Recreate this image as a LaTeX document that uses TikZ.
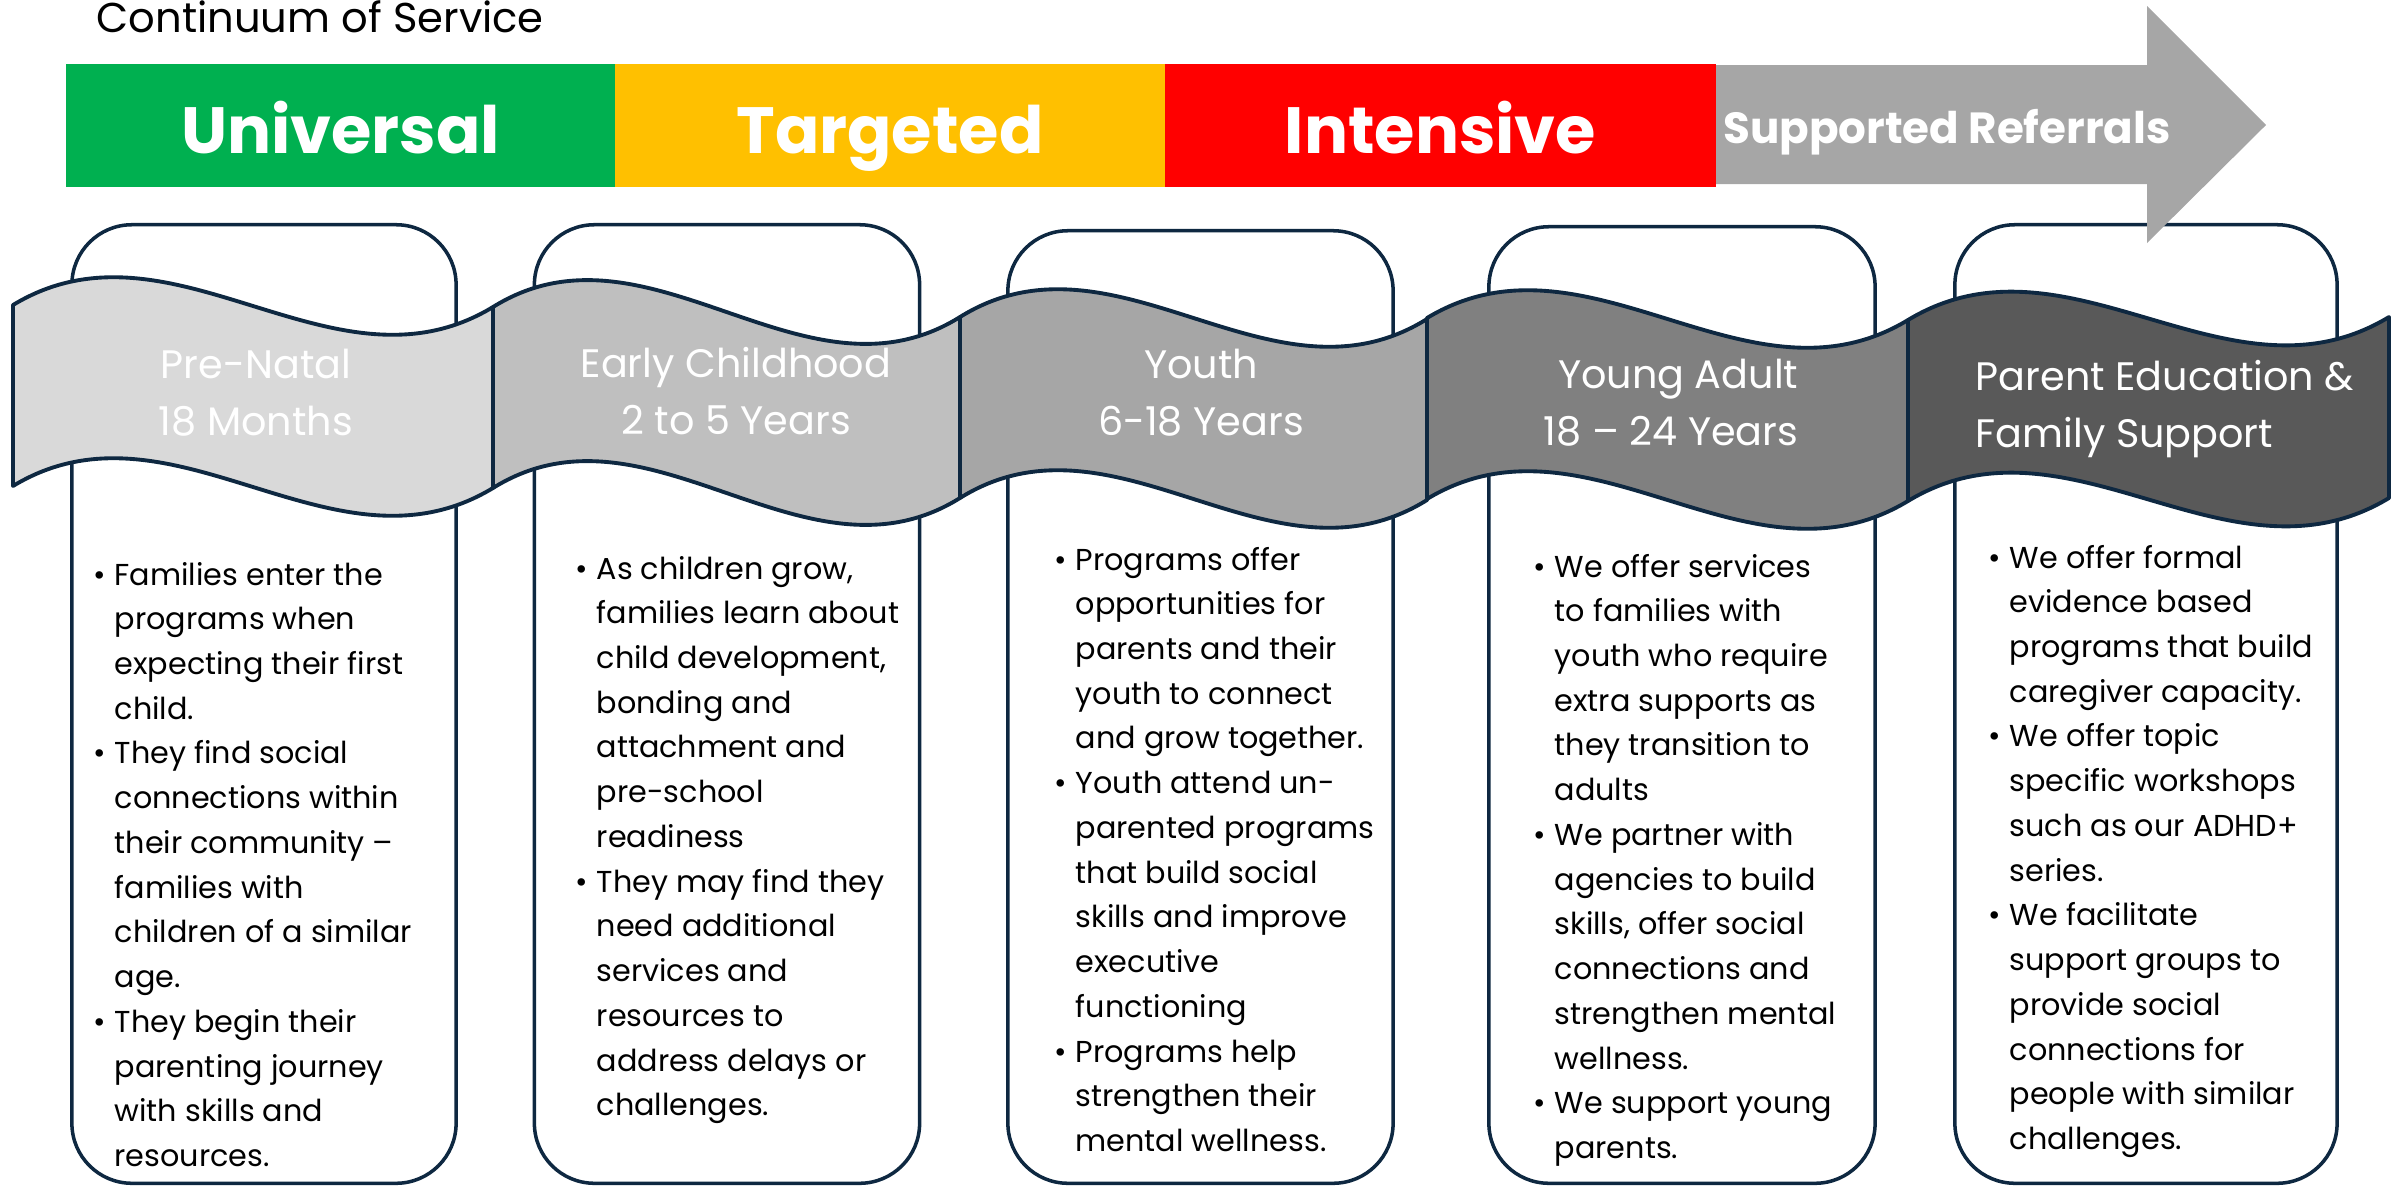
\documentclass[tikz,border=0pt]{standalone}
\usepackage{fontspec}
\setmainfont{Poppins}
\usetikzlibrary{positioning}
\definecolor{uniGreen}{HTML}{00B050}
\definecolor{tarAmber}{HTML}{FFC000}
\definecolor{intRed}{HTML}{FF0000}
\definecolor{refGrey}{HTML}{A6A6A6}
\definecolor{lineNavy}{HTML}{0E2841}
\definecolor{segA}{HTML}{D9D9D9}
\definecolor{segB}{HTML}{BFBFBF}
\definecolor{segC}{HTML}{A6A6A6}
\definecolor{segD}{HTML}{808080}
\definecolor{segE}{HTML}{595959}
\newcommand{\outlinecolor}{lineNavy}
\tikzset{wave/.style={draw=\outlinecolor, line width=1.1pt, line join=round}}

\begin{document}
\begin{tikzpicture}[x=0.01cm, y=-0.01cm,
	card/.style={draw=\outlinecolor, line width=1pt, rounded corners=0.6cm, fill=white, inner sep=0},
	bar/.style={inner sep=0, text=white, font=\bfseries\fontsize{18.6}{22}\selectfont, text height=0.55cm, text depth=0cm, minimum height=1.23cm},
	seglbl/.style={text=white, inner sep=0, font=\fontsize{11.3}{16.2}\selectfont},
	body/.style={anchor=base west, inner sep=0, font=\fontsize{8.6}{12.72}\selectfont}]
	\useasboundingbox (0,0) rectangle (2402,1187);
	%%
	\node[anchor=base west, inner sep=0, font=\fontsize{11.85}{14}\selectfont] (title) at (96,32) {Continuum of Service};
	%%
	\node[card, minimum width=3.84cm, minimum height=9.58cm] (c1) at (264,704) {};
	\node[card, minimum width=3.85cm, minimum height=9.58cm] (c2) at (727,704) {};
	\node[card, minimum width=3.85cm, minimum height=9.52cm] (c3) at (1200.5,707) {};
	\node[card, minimum width=3.86cm, minimum height=9.56cm] (c4) at (1682,705) {};
	\node[card, minimum width=3.82cm, minimum height=9.58cm] (c5) at (2146,704) {};
	%%
	\node[bar, fill=uniGreen, minimum width=5.49cm] (uni) at (340.5,125.5) {Universal};
	\node[bar, fill=tarAmber, minimum width=5.50cm] (tar) at (890,125.5) {Targeted};
	\node[bar, fill=intRed, minimum width=5.51cm] (int) at (1440.5,125.5) {Intensive};
	\fill[refGrey] (1716,65) -- (2147,65) -- (2147,6) -- (2266,125) -- (2147,243) -- (2147,184) -- (1716,184) -- cycle;
	\node[anchor=base, inner sep=0, text=white, font=\bfseries\fontsize{12.4}{14}\selectfont] (sup) at (1947,143) {Supported Referrals};
	%%
	\foreach \xa/\xb/\ya/\yb/\shade in {13/493/305/307/segA, 493/960/307/317/segB, 960/1427/317/319/segC, 1427/1908/318/320/segD, 1908/2389/320/317/segE} {
		\filldraw[wave, fill=\shade] (\xa,\ya) .. controls ({\xa+(\xb-\xa)/3},\ya-97) and ({\xa+2*(\xb-\xa)/3},\yb+97) .. (\xb,\yb)
			-- (\xb,\yb+181) .. controls ({\xa+2*(\xb-\xa)/3},\yb+278) and ({\xa+(\xb-\xa)/3},\ya+84) .. (\xa,\ya+181) -- cycle;
	}
	%%
	\node[seglbl, align=center, anchor=base] (l1) at (256,435) {Pre-Natal\\18 Months};
	\node[seglbl, align=center, anchor=base] (l2) at (736,434) {Early Childhood\\2 to 5 Years};
	\node[seglbl, align=center, anchor=base] (l3) at (1201,435) {Youth\\6-18 Years};
	\node[seglbl, align=right, anchor=base east] (l4) at (1799,445) {Young Adult\\18 -- 24 Years};
	\node[seglbl, align=left, anchor=base west] (l5) at (1975,447) {Parent Education \&\\Family Support};
	%%
	\node[body] (t1) at (93,585) {\begin{tabular}[t]{@{}p{0.21cm}@{}l@{}}
		\textbullet & Families enter the\\
		& programs when\\
		& expecting their first\\
		& child.\\
		\textbullet & They find social\\
		& connections within\\
		& their community --\\
		& families with\\
		& children of a similar\\
		& age.\\
		\textbullet & They begin their\\
		& parenting journey\\
		& with skills and\\
		& resources.
	\end{tabular}};
	\node[body] (t2) at (575,579) {\begin{tabular}[t]{@{}p{0.21cm}@{}l@{}}
		\textbullet & As children grow,\\
		& families learn about\\
		& child development,\\
		& bonding and\\
		& attachment and\\
		& pre-school\\
		& readiness\\
		\textbullet & They may find they\\
		& need additional\\
		& services and\\
		& resources to\\
		& address delays or\\
		& challenges.
	\end{tabular}};
	\node[body] (t3) at (1054,570) {\begin{tabular}[t]{@{}p{0.21cm}@{}l@{}}
		\textbullet & Programs offer\\
		& opportunities for\\
		& parents and their\\
		& youth to connect\\
		& and grow together.\\
		\textbullet & Youth attend un-\\
		& parented programs\\
		& that build social\\
		& skills and improve\\
		& executive\\
		& functioning\\
		\textbullet & Programs help\\
		& strengthen their\\
		& mental wellness.
	\end{tabular}};
	\node[body] (t4) at (1533,577) {\begin{tabular}[t]{@{}p{0.21cm}@{}l@{}}
		\textbullet & We offer services\\
		& to families with\\
		& youth who require\\
		& extra supports as\\
		& they transition to\\
		& adults\\
		\textbullet & We partner with\\
		& agencies to build\\
		& skills, offer social\\
		& connections and\\
		& strengthen mental\\
		& wellness.\\
		\textbullet & We support young\\
		& parents.
	\end{tabular}};
	\node[body] (t5) at (1988,568) {\begin{tabular}[t]{@{}p{0.21cm}@{}l@{}}
		\textbullet & We offer formal\\
		& evidence based\\
		& programs that build\\
		& caregiver capacity.\\
		\textbullet & We offer topic\\
		& specific workshops\\
		& such as our ADHD+\\
		& series.\\
		\textbullet & We facilitate\\
		& support groups to\\
		& provide social\\
		& connections for\\
		& people with similar\\
		& challenges.
	\end{tabular}};
\end{tikzpicture}
\end{document}
